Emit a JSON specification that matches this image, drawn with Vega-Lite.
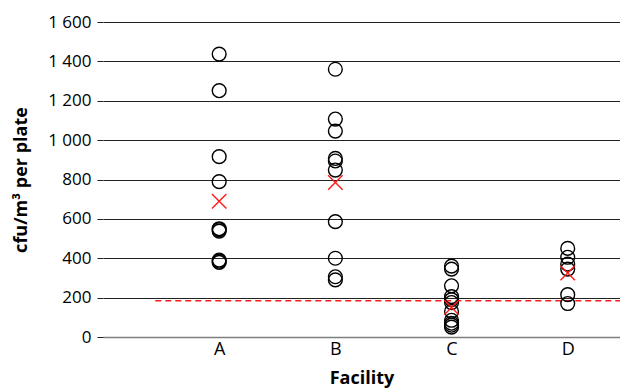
{
  "$schema": "https://vega.github.io/schema/vega-lite/v6.json",
  "width": 517,
  "height": 315,
  "autosize": {"type": "none"},
  "padding": {"left": 103, "top": 22, "right": 0, "bottom": 54},
  "background": "white",
  "config": {
    "view": {"stroke": null},
    "font": "Open Sans",
    "axis": {"labelFont": "Open Sans", "titleFont": "Open Sans", "labelColor": "#000", "titleColor": "#000", "labelOverlap": false, "labelFontSize": 17, "titleFontSize": 18, "titleFontWeight": "bold"}
  },
  "data": {
    "values": [
      {"kind": "sample", "facility": "A", "pos": 1, "value": 1437},
      {"kind": "sample", "facility": "A", "pos": 1, "value": 1251},
      {"kind": "sample", "facility": "A", "pos": 1, "value": 916},
      {"kind": "sample", "facility": "A", "pos": 1, "value": 789},
      {"kind": "sample", "facility": "A", "pos": 1, "value": 550},
      {"kind": "sample", "facility": "A", "pos": 1, "value": 545},
      {"kind": "sample", "facility": "A", "pos": 1, "value": 538},
      {"kind": "sample", "facility": "A", "pos": 1, "value": 391},
      {"kind": "sample", "facility": "A", "pos": 1, "value": 385},
      {"kind": "sample", "facility": "A", "pos": 1, "value": 379},
      {"kind": "sample", "facility": "B", "pos": 2, "value": 1360},
      {"kind": "sample", "facility": "B", "pos": 2, "value": 1107},
      {"kind": "sample", "facility": "B", "pos": 2, "value": 1046},
      {"kind": "sample", "facility": "B", "pos": 2, "value": 907},
      {"kind": "sample", "facility": "B", "pos": 2, "value": 894},
      {"kind": "sample", "facility": "B", "pos": 2, "value": 848},
      {"kind": "sample", "facility": "B", "pos": 2, "value": 586},
      {"kind": "sample", "facility": "B", "pos": 2, "value": 400},
      {"kind": "sample", "facility": "B", "pos": 2, "value": 306},
      {"kind": "sample", "facility": "B", "pos": 2, "value": 290},
      {"kind": "sample", "facility": "C", "pos": 3, "value": 360},
      {"kind": "sample", "facility": "C", "pos": 3, "value": 345},
      {"kind": "sample", "facility": "C", "pos": 3, "value": 260},
      {"kind": "sample", "facility": "C", "pos": 3, "value": 205},
      {"kind": "sample", "facility": "C", "pos": 3, "value": 190},
      {"kind": "sample", "facility": "C", "pos": 3, "value": 175},
      {"kind": "sample", "facility": "C", "pos": 3, "value": 130},
      {"kind": "sample", "facility": "C", "pos": 3, "value": 85},
      {"kind": "sample", "facility": "C", "pos": 3, "value": 70},
      {"kind": "sample", "facility": "C", "pos": 3, "value": 60},
      {"kind": "sample", "facility": "C", "pos": 3, "value": 50},
      {"kind": "sample", "facility": "D", "pos": 4, "value": 450},
      {"kind": "sample", "facility": "D", "pos": 4, "value": 405},
      {"kind": "sample", "facility": "D", "pos": 4, "value": 370},
      {"kind": "sample", "facility": "D", "pos": 4, "value": 345},
      {"kind": "sample", "facility": "D", "pos": 4, "value": 215},
      {"kind": "sample", "facility": "D", "pos": 4, "value": 170},
      {"kind": "mean", "facility": "A", "pos": 1, "value": 690},
      {"kind": "mean", "facility": "B", "pos": 2, "value": 785},
      {"kind": "mean", "facility": "C", "pos": 3, "value": 150},
      {"kind": "mean", "facility": "D", "pos": 4, "value": 325},
      {"kind": "limit", "facility": "", "pos": 0.45, "pos2": 4.45, "value": 184}
    ]
  },
  "encoding": {
    "x": {"field": "pos", "type": "quantitative", "scale": {"domain": [0, 4.45], "nice": false, "zero": false},
      "axis": {
        "values": [1, 2, 3, 4],
        "labelExpr": "datum.value == 1 ? 'A' : datum.value == 2 ? 'B' : datum.value == 3 ? 'C' : 'D'",
        "grid": false, "ticks": false,
        "domainColor": "#7f7f7f", "domainWidth": 1.5,
        "labelFontSize": 18, "labelPadding": 3, "labelFlush": false,
        "title": "Facility", "titlePadding": 11
      }},
    "y": {"field": "value", "type": "quantitative",
      "scale": {"domain": [0, 1600], "nice": false},
      "axis": {
        "values": [0, 200, 400, 600, 800, 1000, 1200, 1400, 1600],
        "labelExpr": "replace(format(datum.value, ','), ',', ' ')",
        "grid": true, "gridColor": "#222", "gridWidth": 1,
        "domain": false, "tickColor": "#222", "tickSize": 6,
        "labelFontSize": 17, "labelPadding": 6,
        "title": "cfu/m³ per plate", "titlePadding": 17
      }}
  },
  "layer": [
    {
      "transform": [{"filter": "datum.kind == 'limit'"}],
      "mark": {"type": "rule", "color": "#ff1a1a", "strokeWidth": 1.5, "strokeDash": [6, 4], "clip": false},
      "encoding": {
        "x2": {"field": "pos2"}
      }
    },
    {
      "transform": [{"filter": "datum.kind == 'sample'"}],
      "mark": {"type": "point", "shape": "circle", "filled": false, "stroke": "#000", "strokeWidth": 1.4, "size": 190, "opacity": 1, "clip": false}
    },
    {
      "transform": [{"filter": "datum.kind == 'mean'"}],
      "mark": {"type": "point", "shape": "M-1,-1L1,1M1,-1L-1,1", "filled": false, "stroke": "#ff1a1a", "strokeWidth": 1.4, "size": 210, "opacity": 1, "clip": false}
    }
  ]
}
